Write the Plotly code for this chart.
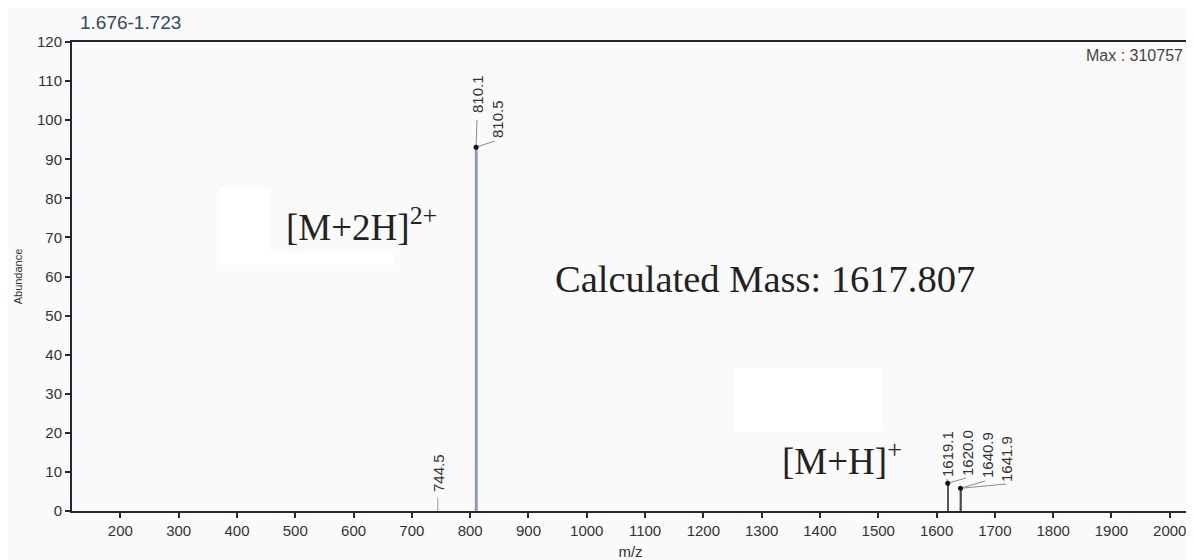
import plotly.graph_objects as go

# ---------------- data ----------------
peak_mz = [744.5, 810.1, 810.5, 1619.1, 1620.0, 1640.9, 1641.9]
peak_abundance = [3.3, 93.1, 92.6, 7.1, 6.9, 5.8, 5.6]
peak_labels = ["744.5", "810.1", "810.5", "1619.1", "1620.0", "1640.9", "1641.9"]
x_ticks = list(range(200, 2001, 100))
y_ticks = list(range(0, 121, 10))
title_text = "1.676-1.723"
max_text = "Max : 310757"
calc_text = "Calculated Mass: 1617.807"
ion2_text = "[M+2H]<sup>2+</sup>"
ion1_text = "[M+H]<sup>+</sup>"

# ---------------- layout geometry ----------------
# the page body has an 8px margin, so the figure is offset by OFF px
OFF = 8
W, H = 1186, 552
ML, MT = 64, 34
PW, PH = 1117, 469
MR = W - ML - PW
MB = H - MT - PH
X0, X1 = 117, 2033
Y0, Y1 = 0, 120


def px2x(px):  # page pixel -> data x
    return X0 + (px - OFF - ML) / PW * (X1 - X0)


def py2y(py):  # page pixel -> data y
    return Y0 + (MT + PH - (py - OFF)) / PH * (Y1 - Y0)


def px2p(px):  # page pixel -> paper x
    return (px - OFF - ML) / PW


def py2p(py):  # page pixel -> paper y
    return (MT + PH - (py - OFF)) / PH


SANS = "Liberation Sans, Arial, sans-serif"
SERIF = "Liberation Serif, Times New Roman, serif"
BG = "#fafafa"

fig = go.Figure()

# stick style per peak
stick_color = ["#9a9a9a", "#8e99a8", "#8e99a8", "#555555", "#555555", "#4a4a4a", "#4a4a4a"]
stick_width = [1, 2.5, 2.5, 1.4, 1.4, 1.6, 1.6]
for mz, ab, c, w in zip(peak_mz, peak_abundance, stick_color, stick_width):
    fig.add_trace(go.Scatter(x=[mz, mz], y=[0, ab], mode="lines",
                             line=dict(color=c, width=w), hoverinfo="skip", showlegend=False))

# label placement (page-pixel center-x / bottom-y), and leader lines
label_pos = [(438, 493), (477, 114), (497, 139), (947, 478), (967, 477), (987, 479), (1006, 483)]
leader_from = [None, 1, 1, 3, 3, 5, 5]  # index of peak whose apex the leader starts at
leader_to = [None, (477, 120), (495, 141), (947, 479), (966, 478), (985, 481), (1006, 484)]

for i, lab in enumerate(peak_labels):
    cx, by = label_pos[i]
    fig.add_annotation(x=px2x(cx), y=py2y(by), xref="x", yref="y", text=lab,
                       textangle=-90, showarrow=False, xanchor="center", yanchor="bottom",
                       borderpad=0, font=dict(family=SANS, size=15, color="#333333"))
    if leader_from[i] is not None:
        j = leader_from[i]
        tx, ty = leader_to[i]
        fig.add_trace(go.Scatter(x=[peak_mz[j], px2x(tx)], y=[peak_abundance[j], py2y(ty)],
                                 mode="lines", line=dict(color="#8a8a8a", width=1),
                                 hoverinfo="skip", showlegend=False))

# apex markers
apex = [1, 3, 5]
fig.add_trace(go.Scatter(x=[peak_mz[i] for i in apex], y=[peak_abundance[i] for i in apex],
                         mode="markers", marker=dict(color="#111111", size=5, symbol="circle"),
                         hoverinfo="skip", showlegend=False))

# white patches (page-pixel boxes)
for (x_a, y_a, x_b, y_b) in [(220, 188, 271, 265), (220, 252, 394, 265), (733, 368, 883, 432)]:
    fig.add_shape(type="rect", xref="paper", yref="paper", x0=px2p(x_a), x1=px2p(x_b),
                  y0=py2p(y_b), y1=py2p(y_a), fillcolor="#ffffff", line=dict(width=0),
                  layer="below")

# text annotations (paper coordinates)
fig.add_annotation(x=px2p(78), y=py2p(22), xref="paper", yref="paper", text=title_text,
                   showarrow=False, xanchor="left", yanchor="middle",
                   font=dict(family=SANS, size=19, color="#34495e"))
fig.add_annotation(x=px2p(1185), y=py2p(56), xref="paper", yref="paper", text=max_text,
                   showarrow=False, xanchor="right", yanchor="middle",
                   font=dict(family=SANS, size=16, color="#444444"))
fig.add_annotation(x=px2p(765), y=py2p(279), xref="paper", yref="paper", text=calc_text,
                   showarrow=False, xanchor="center", yanchor="middle",
                   font=dict(family=SERIF, size=38.5, color="#222222"))
fig.add_annotation(x=px2p(284), y=py2p(224), xref="paper", yref="paper", text=ion2_text,
                   showarrow=False, xanchor="left", yanchor="middle",
                   font=dict(family=SERIF, size=37, color="#222222"))
fig.add_annotation(x=px2p(780), y=py2p(458), xref="paper", yref="paper", text=ion1_text,
                   showarrow=False, xanchor="left", yanchor="middle",
                   font=dict(family=SERIF, size=37, color="#222222"))

axis_common = dict(showgrid=False, zeroline=False, showline=True, linecolor="#1f2a36",
                   linewidth=2, mirror=True, ticks="outside", tickcolor="#1f2a36",
                   tickwidth=2, ticklen=5, automargin=False,
                   tickfont=dict(family=SANS, size=15, color="#333333"))

fig.update_xaxes(range=[X0, X1], tickvals=x_ticks, ticktext=[str(v) for v in x_ticks],
                 title=dict(text="m/z", font=dict(family=SANS, size=15, color="#333333"),
                            standoff=8),
                 **axis_common)
fig.update_yaxes(range=[Y0, Y1], tickvals=y_ticks, ticktext=[str(v) for v in y_ticks],
                 title=dict(text="Abundance", font=dict(family=SANS, size=11, color="#333333"),
                            standoff=12),
                 **axis_common)

fig.update_layout(width=W, height=H, autosize=False,
                  margin=dict(l=ML, r=MR, t=MT, b=MB, pad=0),
                  paper_bgcolor=BG, plot_bgcolor=BG, showlegend=False)

fig.write_html("out.html")
